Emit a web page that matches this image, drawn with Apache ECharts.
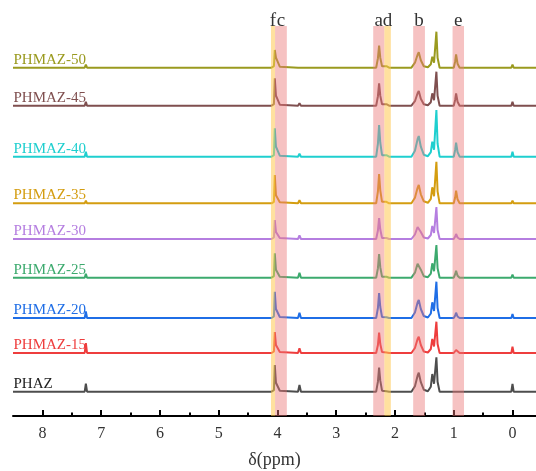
<!DOCTYPE html>
<html>
<head>
<meta charset="utf-8">
<script src="https://cdn.jsdelivr.net/npm/echarts@6/dist/echarts.min.js"></script>
<style>
html,body{margin:0;padding:0;background:#fff;}
#chart{width:536px;height:471px;}
</style>
</head>
<body>
<div id="chart"></div>
<script>
// chemical shift points (ppm) shared by all spectra
var ppm = [8.5,
  7.28, 7.26, 7.24,
  4.10, 4.06, 4.045, 4.025, 3.995, 3.96, 3.93,
  3.65, 3.625, 3.60,
  3.50, 3.475, 3.45,
  2.32, 2.29, 2.27, 2.25, 2.22, 2.19,
  2.145, 2.10,
  1.72, 1.66, 1.615, 1.595, 1.56, 1.51,
  1.44, 1.39, 1.365, 1.335, 1.295, 1.275, 1.24,
  1.00, 0.975, 0.96, 0.935, 0.90,
  0.02, 0.0, -0.02,
  -0.4];

var names = ['PHAZ','PHMAZ-15','PHMAZ-20','PHMAZ-25','PHMAZ-30','PHMAZ-35','PHMAZ-40','PHMAZ-45','PHMAZ-50'];
// vertical stacking level of each spectrum (chart units)
var baselines = [24.3, 63, 98, 138.3, 177, 212.7, 259.3, 310.3, 348.3];

var intPHAZ = [0, 0,8,0, 0,1.5,26.7,9,7,1,0, 0,6.7,0, 0,0.8,0, 0,10,24,11,1,0, 0.5,0, 0,5.5,16,19,9.5,2, 0.5,5,17.7,8,34.4,10,0, 0,0,0,0,0, 0,7.7,0, 0];
var int15   = [0, 0,10,0, 0,1.5,21,8,6,1,0, 0,4.7,0, 0,0.8,0, 0,8,20.3,9,1,0, 0.5,0, 0,5,14,16.3,8,1.5, 0.5,4,14,6.5,31.3,9,0, 0,1.5,3,1,0, 0,6.3,0, 0];
var int20   = [0, 0,6.5,0, 0,1.5,26.3,9,7,1,0, 0,5.3,0, 0,1.2,0, 0,10,25,11,1,0, 0.8,0, 0,5.5,15.5,18,9,2, 0.5,4.5,15.7,7,36.3,10,0, 0,2.5,5.3,1.5,0, 0,4,0, 0];
var int25   = [0, 0,4,0, 0,1.5,24.4,8,6.5,1,0, 0,5,0, 0,1.2,0, 0,9.5,23.7,10.5,1,0, 1,0, 0,5,14,16,8,1.5, 0.5,4,14.4,6.5,32.7,9.5,0, 0,3.5,7,2,0, 0,3,0, 0];
var int30   = [0, 0,2,0, 0,1.5,19,7,5.5,1,0, 0,3.5,0, 0,1.2,0, 0,8.5,21,9.5,1,0, 1,0, 0,4.5,12,14,7,1.5, 0.5,4,13,6,32,9,0, 0,2.5,5,1.5,0, 0,2,0, 0];
var int35   = [0, 0,2.7,0, 0,1.5,28.3,8,6.5,1,0, 0,3,0, 0,1.5,0, 0,12,29.3,13,1.5,0, 1.5,0, 0,5.5,15.5,18.3,9,2, 0.5,4.5,16,7,41.6,12,0, 0,6,12.6,4,0, 0,2.5,0, 0];
var int40   = [0, 0,5,0, 0,1.5,28.4,10,8,1,0, 0,3,0, 0,1.5,0, 0,13,31.7,14,1.5,0, 1.5,0, 0,6,17.5,20.7,10,2, 0.5,4.5,15,7,46.7,13,0, 0,7,14,4.5,0, 0,5,0, 0];
var int45   = [0, 0,4,0, 0,1.5,27.4,10,8,1,0, 0,2.5,0, 0,1.5,0, 0,9.5,22.4,10,1.5,0, 1.5,0, 0,4.5,12.5,14.7,7,1.5, 0.5,3.5,12.4,5.5,34,10,0, 0,6,12.4,4,0, 0,4,0, 0];
var int50   = [0, 0,3,0, 0,1.5,17.7,10,8,1,0, 0,2,0, 0,1.5,0, 0,9.5,22,10,1.5,0, 1.5,0, 0,5,13,15.4,7.5,1.5, 0.5,3.5,11,5,36,10,0, 0,6.5,13.4,4,0, 0,3,0, 0];
var intensities = [intPHAZ, int15, int20, int25, int30, int35, int40, int45, int50];

var colors = ['#4d4d4d','#ee3d3d','#1f6ee6','#3caa6e','#b57ee0','#d49d10','#1fcfcf','#7f4f4f','#9a9a1f'];
var labelColors = ['#222222','#ee3d3d','#1f6ee6','#3caa6e','#b57ee0','#d49d10','#1fcfcf','#7f4f4f','#9a9a1f'];

// assignment bands
var bandLabels = ['f','c','a','d','b','e'];
var bandFrom   = [4.11, 4.04, 2.37, 2.18, 1.69, 1.02];
var bandTo     = [4.04, 3.84, 2.18, 2.07, 1.49, 0.825];
var bandKind   = ['y','p','p','y','p','p'];

var majorTicks = [0,1,2,3,4,5,6,7,8];
var minorTicks = [0.5,1.5,2.5,3.5,4.5,5.5,6.5,7.5];

var serif = "'Liberation Serif','Times New Roman',serif";

var chart = echarts.init(document.getElementById('chart'), null, {renderer:'canvas'});

var series = names.map(function(n, k){
  return {
    name: n,
    type: 'line',
    xAxisIndex: 0,
    yAxisIndex: 0,
    showSymbol: false,
    symbol: 'none',
    smooth: false,
    z: 2 + k,
    lineStyle: {color: colors[k], width: 2},
    itemStyle: {color: colors[k]},
    data: ppm.map(function(p, i){ return [p, baselines[k] + intensities[k][i]]; }),
    markPoint: {
      symbol: 'rect',
      symbolSize: 1,
      silent: true,
      itemStyle: {color: 'rgba(0,0,0,0)'},
      label: {
        show: true,
        formatter: n,
        position: [1, 0],
        align: 'left',
        verticalAlign: 'bottom',
        color: labelColors[k],
        fontFamily: serif,
        fontSize: 15
      },
      data: [{coord: [8.5, baselines[k]]}]
    }
  };
});

series.push({
  name: 'bands',
  type: 'line',
  data: [],
  z: 20,
  silent: true,
  markArea: {
    silent: true,
    z: 20,
    label: {
      show: true,
      position: 'top',
      distance: 0,
      offset: [0, 5],
      color: '#333',
      fontFamily: serif,
      fontSize: 19
    },
    data: bandLabels.map(function(l, i){
      return [
        {name: l, xAxis: bandFrom[i],
         itemStyle: {color: bandKind[i] === 'y' ? 'rgba(255,200,80,0.55)' : 'rgba(235,120,120,0.45)'}},
        {xAxis: bandTo[i]}
      ];
    })
  }
});

var option = {
  animation: false,
  backgroundColor: '#ffffff',
  grid: {left: 13, right: 0, top: 26, bottom: 55, containLabel: false, outerBoundsMode: 'none'},
  xAxis: [{
    type: 'value',
    inverse: true,
    min: -0.4,
    max: 8.5,
    name: 'δ(ppm)',
    nameLocation: 'middle',
    nameGap: 35,
    nameTextStyle: {fontFamily: serif, fontSize: 18, color: '#333'},
    axisLine: {show: true, onZero: false, lineStyle: {color: '#000', width: 2}},
    axisTick: {show: true, inside: true, length: 6, customValues: majorTicks, lineStyle: {color: '#000', width: 2}},
    axisLabel: {show: true, margin: 10, customValues: majorTicks, fontFamily: serif, fontSize: 16, color: '#333'},
    splitLine: {show: false}
  }, {
    type: 'value',
    inverse: true,
    min: -0.4,
    max: 8.5,
    position: 'bottom',
    axisLine: {show: false, onZero: false},
    axisTick: {show: true, inside: true, length: 3.5, customValues: minorTicks, lineStyle: {color: '#000', width: 2}},
    axisLabel: {show: false},
    splitLine: {show: false}
  }],
  yAxis: {
    type: 'value',
    min: 0,
    max: 390,
    show: false,
    splitLine: {show: false}
  },
  series: series
};

chart.setOption(option);
</script>
</body>
</html>
